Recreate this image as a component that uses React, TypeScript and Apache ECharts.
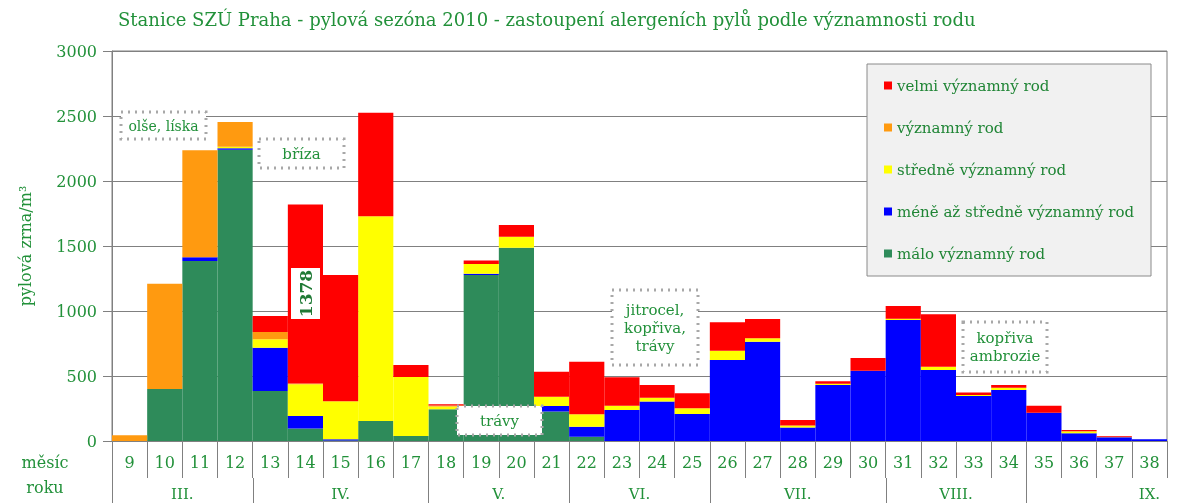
import React, { useEffect, useRef } from "react";
import * as echarts from "echarts";

const weeks = ["9","10","11","12","13","14","15","16","17","18","19","20","21","22","23","24","25","26","27","28","29","30","31","32","33","34","35","36","37","38"];

// bottom -> top of the stack
const maloVyznamny = [0,400,1385,2240,385,97,3,154,38,244,1277,1487,226,33,0,0,0,0,0,0,0,0,0,0,0,0,0,0,0,0];
const meneAzStredne = [0,0,28,12,333,95,10,0,0,0,10,0,43,77,238,303,208,623,764,103,431,541,931,546,346,392,218,59,28,13];
const stredneVyznamny = [0,0,0,12,64,245,292,1574,454,22,75,85,72,95,34,30,43,72,26,17,10,0,10,26,8,18,0,13,0,0];
const vyznamny = [45,810,823,190,56,5,0,0,0,8,0,0,0,0,0,0,0,0,0,0,0,0,0,0,0,0,0,4,5,0];
const velmiVyznamny = [0,0,0,0,124,1378,972,797,93,8,27,90,192,405,218,98,116,218,148,42,18,97,97,403,20,21,54,8,5,0];

const seriesNames = ["málo významný rod","méně až středně významný rod","středně významný rod","významný rod","velmi významný rod"];
const seriesColors = ["#2e8b5a","#0000ff","#ffff00","#ff9a10","#ff0000"];
const legendOrder = ["velmi významný rod","významný rod","středně významný rod","méně až středně významný rod","málo významný rod"];

const months = ["III.","IV.","V.","VI.","VII.","VIII.","IX."];
const monthFirstWeek = [9,13,18,22,26,31,35];
const monthLastWeek = [12,17,21,25,30,34,41];

const yTicks = { min: 0, max: 3000, interval: 500 };

const GREEN = "#22913a";
const FONT = "DejaVu Serif";

export default function App() {
  const ref = useRef<HTMLDivElement>(null);
  useEffect(() => {
    const chart = echarts.init(ref.current!, null, { renderer: "svg" });
    const data = [maloVyznamny, meneAzStredne, stredneVyznamny, vyznamny, velmiVyznamny];
    chart.setOption({
      animation: false,
      title: {
        text: "Stanice SZÚ Praha - pylová sezóna 2010 - zastoupení alergeních pylů podle významnosti rodu",
        left: 118,
        top: 10,
        padding: 0,
        textStyle: { fontFamily: FONT, fontSize: 18, fontWeight: "normal", color: GREEN },
      },
      legend: {
        data: legendOrder,
        orient: "vertical",
        left: 879,
        top: 73,
        itemWidth: 8,
        itemHeight: 8,
        itemGap: 27,
        icon: "rect",
        z: 6,
        textStyle: { fontFamily: FONT, fontSize: 15, color: "#1f8535" },
      },
      grid: { left: 112, right: 33, top: 51, bottom: 62, show: true, borderColor: "#808080", borderWidth: 1 },
      xAxis: {
        type: "category",
        data: weeks,
        boundaryGap: true,
        axisLine: { lineStyle: { color: "#808080" } },
        axisTick: { show: true, interval: 0, length: 37, lineStyle: { color: "#808080" } },
        axisLabel: { interval: 0, margin: 13, fontFamily: FONT, fontSize: 16, color: GREEN },
      },
      yAxis: {
        type: "value",
        min: yTicks.min,
        max: yTicks.max,
        interval: yTicks.interval,
        name: "pylová zrna/m³",
        nameLocation: "middle",
        nameGap: 79,
        nameTextStyle: { fontFamily: FONT, fontSize: 16, color: GREEN },
        axisLine: { show: true, lineStyle: { color: "#808080" } },
        axisTick: { show: true, length: 9, lineStyle: { color: "#808080" } },
        axisLabel: { margin: 15, fontFamily: FONT, fontSize: 16, color: GREEN, formatter: (v: number) => String(v) },
        splitLine: { lineStyle: { color: "#808080" } },
      },
      series: data.map((d, i) => ({
        name: seriesNames[i],
        type: "bar",
        stack: "total",
        barCategoryGap: "0%",
        barGap: "0%",
        itemStyle: { color: seriesColors[i] },
        data: d,
      })),
    });

    const c0 = chart.convertToPixel({ xAxisIndex: 0 }, weeks[0]) as number;
    const c1 = chart.convertToPixel({ xAxisIndex: 0 }, weeks[1]) as number;
    const bw = c1 - c0;
    const xLeft = (w: number) => c0 - bw / 2 + (w - Number(weeks[0])) * bw;
    const yBase = chart.convertToPixel({ yAxisIndex: 0 }, 0) as number;

    const graphic: any[] = [];
    // legend background
    graphic.push({ type: "rect", z: 3, shape: { x: 867, y: 64, width: 284, height: 212 }, style: { fill: "#f1f1f1", stroke: "#8a8a8a", lineWidth: 1 } });
    // month separators and labels
    months.forEach((m, i) => {
      const xs = Math.round(xLeft(monthFirstWeek[i])) + 0.5;
      graphic.push({ type: "line", z: 3, shape: { x1: xs, y1: i === 0 ? yBase : yBase + 37, x2: xs, y2: 503 }, style: { stroke: "#808080", lineWidth: 1 } });
      const xc = (xLeft(monthFirstWeek[i]) + xLeft(monthLastWeek[i] + 1)) / 2;
      graphic.push({ type: "text", z: 3, x: xc, y: 494, style: { text: m, fontFamily: FONT, fontSize: 15, fill: GREEN, align: "center", verticalAlign: "middle" } });
    });
    graphic.push({ type: "text", z: 3, x: 45, y: 462, style: { text: "měsíc", fontFamily: FONT, fontSize: 16, fill: GREEN, align: "center", verticalAlign: "middle" } });
    graphic.push({ type: "text", z: 3, x: 45, y: 487, style: { text: "roku", fontFamily: FONT, fontSize: 16, fill: GREEN, align: "center", verticalAlign: "middle" } });

    const box = (x: number, y: number, w: number, h: number, lines: string[], fs: number) => {
      graphic.push({ type: "rect", z: 10, shape: { x, y, width: w, height: h }, style: { fill: "#ffffff", stroke: "#a8a8a8", lineWidth: 3, lineDash: [2, 5] } });
      graphic.push({ type: "text", z: 11, x: x + w / 2, y: y + h / 2, style: { text: lines.join("\n"), lineHeight: fs + 3, fontFamily: FONT, fontSize: fs, fill: GREEN, align: "center", verticalAlign: "middle" } });
    };
    box(121, 112, 85, 27, ["olše, líska"], 14);
    box(259, 139, 85, 29, ["bříza"], 15);
    box(457, 406, 85, 29, ["trávy"], 15);
    box(612, 290, 86, 75, ["jitrocel,", "kopřiva,", "trávy"], 15);
    box(963, 322, 84, 50, ["kopřiva", "ambrozie"], 15);

    // 1378 label
    graphic.push({ type: "rect", z: 10, shape: { x: 291, y: 268, width: 29, height: 51 }, style: { fill: "#ffffff" } });
    graphic.push({ type: "text", z: 11, x: 305.5, y: 293.5, rotation: Math.PI / 2, style: { text: "1378", fontFamily: FONT, fontSize: 17, fontWeight: "bold", fill: "#1f7a35", align: "center", verticalAlign: "middle" } });

    chart.setOption({ graphic });
    return () => chart.dispose();
  }, []);
  return <div ref={ref} style={{ position: "fixed", left: 0, top: 0, width: 1200, height: 503 }} />;
}
